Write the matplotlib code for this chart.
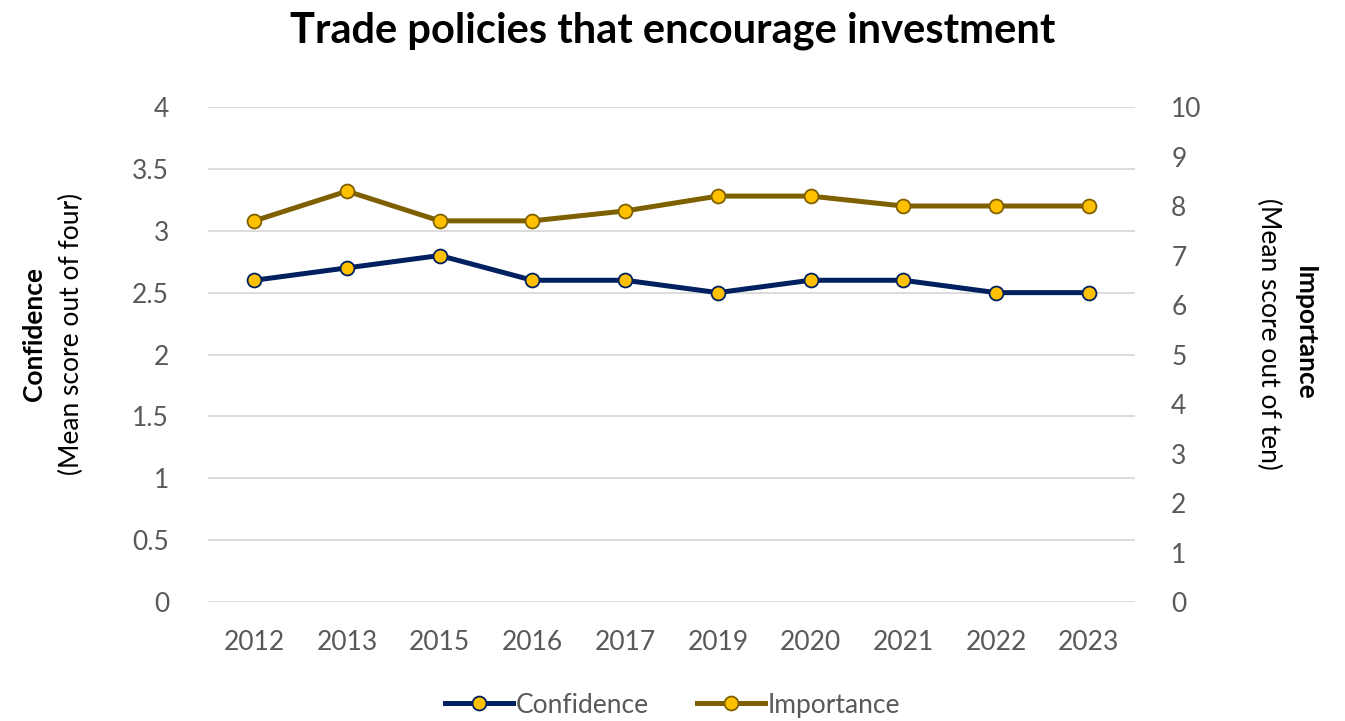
import matplotlib.pyplot as plt

# Data
years = ['2012', '2013', '2015', '2016', '2017', '2019', '2020', '2021', '2022', '2023']
confidence = [2.6, 2.7, 2.8, 2.6, 2.6, 2.5, 2.6, 2.6, 2.5, 2.5]
importance = [7.7, 8.3, 7.7, 7.7, 7.9, 8.2, 8.2, 8.0, 8.0, 8.0]

plt.rcParams['font.family'] = ['Lato', 'DejaVu Sans']
gray = '#595959'

fig = plt.figure(figsize=(13.45, 7.21), dpi=100)
ax = fig.add_axes([0.1546, 0.165, 0.6893, 0.6866])
ax2 = ax.twinx()

x = range(len(years))
l1, = ax.plot(x, confidence, color='#002060', lw=3.6, marker='o', ms=10,
              mfc='#FFC000', mec='#002060', mew=1.3, label='Confidence', zorder=3)
l2, = ax2.plot(x, importance, color='#7F6000', lw=3.6, marker='o', ms=10,
               mfc='#FFC000', mec='#7F6000', mew=1.3, label='Importance', zorder=3)

ax.set_ylim(0, 4)
ax.set_yticks([0, 0.5, 1, 1.5, 2, 2.5, 3, 3.5, 4])
ax.set_yticklabels(['0', '0.5', '1', '1.5', '2', '2.5', '3', '3.5', '4'])
ax2.set_ylim(0, 10)
ax2.set_yticks(range(0, 11))
ax.set_xlim(-0.5, len(years) - 0.5)
ax.set_xticks(list(x))
ax.set_xticklabels(years)

ax.grid(axis='y', color='#D9D9D9', lw=1.3)
ax.set_axisbelow(True)
for a in (ax, ax2):
    for s in a.spines.values():
        s.set_visible(False)
    a.tick_params(length=0, labelsize=19, labelcolor=gray)
ax.tick_params(axis='y', pad=28)
ax2.tick_params(axis='y', pad=26)
ax.tick_params(axis='x', pad=20)

# Title and axis titles
fig.text(0.5, 0.958, 'Trade policies that encourage investment', ha='center', va='center',
         fontsize=30, fontweight='bold', color='black')
fig.text(0.025, 0.537, 'Confidence', rotation=90, ha='center', va='center',
         fontsize=19, fontweight='bold', color='black')
fig.text(0.053, 0.537, '(Mean score out of four)', rotation=90, ha='center', va='center',
         fontsize=19, color='black')
fig.text(0.970, 0.537, 'Importance', rotation=270, ha='center', va='center',
         fontsize=19, fontweight='bold', color='black')
fig.text(0.943, 0.537, '(Mean score out of ten)', rotation=270, ha='center', va='center',
         fontsize=19, color='black')

leg = fig.legend([l1, l2], ['Confidence', 'Importance'], loc='center', bbox_to_anchor=(0.5, 0.022),
                 ncol=2, frameon=False, fontsize=19, handlelength=2.6, columnspacing=1.8,
                 handletextpad=0.1)
for t in leg.get_texts():
    t.set_color(gray)

fig.savefig('out.png', dpi=100)
